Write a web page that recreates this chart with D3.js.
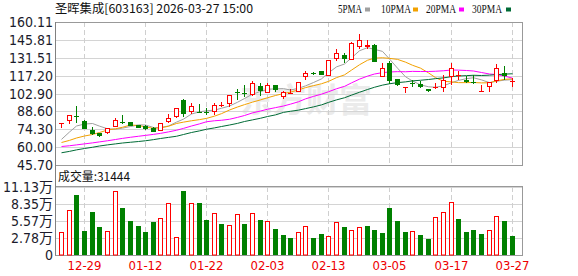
<!DOCTYPE html>
<html>
<head>
<meta charset="utf-8">
<script src="https://d3js.org/d3.v7.min.js"></script>
<style>
  body { margin: 0; background: #fff; }
  svg { display: block; }
  .num { font-family: "Liberation Sans Narrow", "DejaVu Sans Condensed", "Noto Sans CJK SC", sans-serif; font-size: 14px; fill: #1b1b2b; }
  .title { font-family: "Noto Sans CJK SC", sans-serif; font-size: 12px; fill: #111; }
  .legend { font-family: "Liberation Serif", serif; font-size: 11.5px; fill: #111; }
  .xlab { font-family: "Liberation Sans Narrow", "DejaVu Sans Condensed", sans-serif; font-size: 13px; fill: #ee0000; }
  .grid { stroke: #d4d4d4; }
  .vgrid { stroke: #cfcfcf; stroke-dasharray: 5,3; }
  .frame { fill: none; stroke: #999; }
</style>
</head>
<body>
<div id="chart"></div>
<script>
const stockName = "圣晖集成[603163] 2026-03-27 15:00";

const dates = [
  "12-24","12-25","12-26","12-29","12-30","12-31",
  "01-05","01-06","01-07","01-08","01-09","01-12","01-13","01-14","01-15","01-16",
  "01-19","01-20","01-21","01-22","01-23","01-26","01-27","01-28","01-29","01-30",
  "02-02","02-03","02-04","02-05","02-06","02-09","02-10","02-11","02-12","02-13",
  "02-24","02-25","02-26","02-27",
  "03-02","03-03","03-04","03-05","03-06","03-09","03-10","03-11","03-12","03-13",
  "03-16","03-17","03-18","03-19","03-20","03-23","03-24","03-25","03-26","03-27"
];

const open = [78.4,80.9,85.1,80.9,73.7,71.0,71.5,76.3,79.8,79.8,77.7,76.9,75.0,73.3,80.3,84.3,97.6,88.3,88.3,88.3,
  87.8,93.0,94.4,103.8,103.2,101.6,109.0,103.5,109.6,100.0,103.3,104.3,116.2,119.4,120.8,117.2,130.9,133.6,130.1,140.2,
  140.2,142.1,116.2,127.7,114.2,107.5,111.4,110.6,106.4,107.0,107.0,116.0,116.9,113.6,112.0,103.8,108.0,113.0,119.0,112.6];
const high = [79.3,85.9,93.1,81.5,75.8,71.5,75.7,83.7,85.6,80.2,78.0,78.0,76.5,79.3,86.2,91.5,98.4,95.5,94.4,91.0,
  95.0,96.3,101.6,106.4,109.6,112.8,111.0,111.0,110.0,104.8,106.4,112.0,121.0,120.4,121.0,129.8,138.9,135.4,144.0,150.9,
  145.6,142.3,127.0,129.0,114.5,107.8,113.4,112.8,106.6,111.6,117.6,127.6,120.8,116.8,117.6,109.6,112.4,126.8,124.8,115.2];
const low = [75.5,78.9,79.7,74.3,69.5,68.1,70.5,76.0,78.6,76.8,75.0,74.0,71.8,72.8,79.3,83.5,84.4,86.4,87.5,85.6,
  85.6,92.0,92.3,97.6,100.3,101.0,101.1,103.0,103.8,98.2,102.4,104.0,113.6,117.6,117.4,117.0,128.8,127.0,129.8,138.4,
  138.9,128.0,116.0,110.4,109.3,103.6,108.2,107.2,104.0,106.4,104.3,109.6,113.6,111.2,110.4,103.8,104.3,111.0,113.6,108.2];
const close = [79.2,85.6,84.0,74.9,70.5,69.1,75.0,82.0,79.2,77.1,75.5,74.5,72.3,79.0,83.2,91.0,86.4,92.8,87.8,87.5,
  93.6,93.4,101.4,103.0,102.4,111.0,104.8,109.6,105.6,103.8,103.7,111.8,119.4,118.8,117.6,129.6,135.4,130.9,143.7,146.1,
  142.1,128.2,123.0,113.0,109.6,107.8,111.0,107.8,105.2,107.8,113.6,123.0,117.4,112.4,111.2,104.8,112.0,123.0,116.8,113.2];

// volume in 万 (10k shares)
const volume = [3.81,7.37,9.87,3.93,7.04,4.58,3.93,10.43,7.69,5.57,4.75,3.81,5.40,6.01,8.51,2.90,10.48,8.48,8.51,5.73,
  6.88,5.07,4.86,6.66,5.07,6.88,5.73,5.52,4.26,3.27,2.78,3.77,4.70,2.78,3.44,3.06,5.40,4.58,4.04,4.53,
  4.75,4.09,3.62,7.72,5.57,3.81,3.93,3.27,2.62,6.17,6.99,8.63,5.89,3.81,4.09,3.44,4.09,6.34,5.57,3.1444];

const ma5 = [66.2,72.1,76.9,78.5,78.9,76.8,74.7,74.3,75.2,76.5,77.8,77.7,75.7,75.7,76.9,80.0,82.4,86.5,88.2,89.1,
  89.6,91.1,92.9,95.9,98.9,102.4,104.5,106.2,106.7,106.8,105.7,107.1,109.0,111.7,114.6,119.4,124.2,126.5,131.4,137.1,
  139.6,138.2,136.6,130.5,123.2,116.3,112.9,109.8,108.3,107.9,109.1,111.5,113.4,114.8,115.5,113.8,111.6,112.7,113.6,114.0];
const ma10 = [63.7,65.4,67.3,68.9,70.1,71.7,73.7,74.7,75.9,77.7,77.3,76.2,75.0,75.4,76.7,78.9,80.0,81.1,82.0,83.0,
  84.8,86.8,89.7,92.1,94.0,96.0,97.8,99.5,101.3,102.9,104.0,105.8,107.6,109.2,110.7,112.6,115.6,117.8,121.6,125.9,
  129.5,131.2,131.5,131.0,130.2,128.0,125.5,123.2,119.4,115.6,112.7,112.2,111.6,111.6,111.7,111.4,111.5,113.0,114.2,114.7];
const ma20 = [60.5,61.1,61.8,62.6,63.4,64.2,65.1,66.1,67.0,67.9,68.7,69.4,70.2,71.0,72.2,73.5,75.0,76.9,78.6,80.3,
  81.1,81.5,82.3,83.8,85.3,87.4,88.9,90.3,91.6,92.9,94.4,96.3,98.6,100.6,102.4,104.3,106.7,108.6,111.4,114.4,
  116.8,118.5,119.6,120.1,120.4,120.3,120.6,120.5,120.5,120.7,121.1,121.7,121.6,121.3,120.9,119.7,118.5,118.1,116.8,115.2];
const ma30 = [55.5,56.6,57.8,58.9,59.9,60.9,61.8,62.6,63.3,63.9,64.5,65.1,66.0,66.9,67.8,68.7,70.1,71.7,73.0,74.3,
  75.4,76.5,77.7,79.0,80.5,81.8,83.1,84.5,85.8,87.8,88.7,89.6,90.8,92.2,93.8,95.8,97.8,99.5,101.6,103.9,
  106.1,107.9,109.6,110.7,111.6,112.2,113.0,113.5,114.1,114.8,115.4,116.4,116.9,117.2,117.5,117.3,117.6,118.0,118.4,118.7];

const priceTicks = [160.11,145.81,131.51,117.20,102.90,88.60,74.30,60.00,45.70];
const volTicks = [0,2.78,5.57,8.35,11.13];
const dateTicks = ["12-29","01-12","01-22","02-03","02-13","03-05","03-17","03-27"];
const maNames = ["5PMA","10PMA","20PMA","30PMA"];
const maColors = ["#a0a0a0","#f2a100","#ff00ff","#006b36"];

const UP = "#ff0000", DOWN = "#008000";

const width = 578, height = 276;
const L = 55.5, R = 522.5;
const pTop = 22, pBot = 165;
const vTop = 187, vBot = 255;

const svg = d3.select("#chart").append("svg")
  .attr("width", width).attr("height", height);

const x = d3.scaleBand().domain(dates).range([56.5, 517.3]).padding(0.35);
const cx = d => Math.floor(x(d) + x.bandwidth() / 2);

const y = d3.scaleLinear().domain([45.70, 160.11]).range([pBot, pTop]);
const yv = d3.scaleLinear().domain([0, 11.13]).range([vBot, vTop]);

// title
svg.append("text").attr("class", "title")
  .attr("x", 55).attr("y", 13)
  .attr("textLength", 198).attr("lengthAdjust", "spacingAndGlyphs")
  .text(stockName);

// legend
const legendX = [338, 381, 426, 472];
const legendW = [24, 30, 30, 30];
const legendSwatch = [365, 413, 459, 506];
maNames.forEach((n, i) => {
  svg.append("text").attr("class", "legend")
    .attr("x", legendX[i]).attr("y", 12.5)
    .attr("textLength", legendW[i]).attr("lengthAdjust", "spacingAndGlyphs")
    .text(n);
  svg.append("rect")
    .attr("x", legendSwatch[i]).attr("y", 7.5)
    .attr("width", 5).attr("height", 4)
    .attr("fill", maColors[i]);
});

// watermark
svg.append("text")
  .attr("x", 240).attr("y", 112)
  .attr("font-family", "Noto Sans CJK SC, sans-serif")
  .attr("font-size", 33).attr("font-weight", "bold")
  .attr("fill", "#ebebeb")
  .text("东方财富");

// price grid
svg.append("g").selectAll("line").data(priceTicks).join("line")
  .attr("class", "grid")
  .attr("x1", L).attr("x2", R)
  .attr("y1", d => Math.round(y(d)) + 0.5).attr("y2", d => Math.round(y(d)) + 0.5);

svg.append("g").selectAll("text").data(priceTicks).join("text")
  .attr("class", "num").attr("text-anchor", "end")
  .attr("x", 53).attr("y", d => Math.round(y(d)) + 5)
  .text(d => d.toFixed(2));

// volume grid
svg.append("g").selectAll("line").data(volTicks).join("line")
  .attr("class", "grid")
  .attr("x1", L).attr("x2", R)
  .attr("y1", d => Math.round(yv(d)) + 0.5).attr("y2", d => Math.round(yv(d)) + 0.5);

svg.append("g").selectAll("text").data(volTicks).join("text")
  .attr("class", "num").attr("text-anchor", "end")
  .attr("x", 53).attr("y", d => Math.round(yv(d)) + 5)
  .text(d => d === 0 ? "0" : d.toFixed(2) + "万");

// vertical dashed lines + date labels
const vg = svg.append("g");
dateTicks.forEach(d => {
  const xx = cx(d) + 0.5;
  vg.append("line").attr("class", "vgrid")
    .attr("x1", xx).attr("x2", xx).attr("y1", pTop).attr("y2", pBot);
  vg.append("line").attr("class", "vgrid")
    .attr("x1", xx).attr("x2", xx).attr("y1", vTop).attr("y2", vBot);
  vg.append("text").attr("class", "xlab").attr("text-anchor", "middle")
    .attr("x", xx).attr("y", 270).text(d);
});

// frames
svg.append("rect").attr("class", "frame")
  .attr("x", L).attr("y", pTop + 0.5).attr("width", R - L).attr("height", pBot - pTop);
svg.append("rect").attr("class", "frame")
  .attr("x", L).attr("y", vTop - 0.5).attr("width", R - L).attr("height", vBot - vTop + 1);
svg.append("line")
  .attr("x1", L).attr("x2", L).attr("y1", pTop).attr("y2", vBot + 0.5)
  .attr("stroke", "#808080");

// volume label
svg.append("text").attr("class", "title")
  .attr("x", 58).attr("y", 181)
  .attr("textLength", 72).attr("lengthAdjust", "spacingAndGlyphs")
  .text("成交量:" + Math.round(volume[volume.length - 1] * 10000));

// moving averages
const maSeries = [ma5, ma10, ma20, ma30];
maSeries.forEach((s, k) => {
  const line = d3.line()
    .x((v, i) => cx(dates[i]) + 0.5)
    .y(v => y(v));
  svg.append("path")
    .attr("d", line(s))
    .attr("fill", "none")
    .attr("stroke", maColors[k])
    .attr("stroke-width", 1);
});

// candles
const candles = dates.map((d, i) => ({
  d, o: open[i], h: high[i], l: low[i], c: close[i], v: volume[i],
  prev: i > 0 ? close[i - 1] : open[i]
}));

const cg = svg.append("g");
candles.forEach(k => {
  const c = cx(k.d);
  const up = k.c > k.o || (k.c === k.o && k.c >= k.prev);
  const col = up ? UP : DOWN;
  const yH = Math.round(y(k.h)), yL = Math.round(y(k.l));
  const yT = Math.round(y(Math.max(k.o, k.c))), yB = Math.round(y(Math.min(k.o, k.c)));
  cg.append("line")
    .attr("x1", c + 0.5).attr("x2", c + 0.5)
    .attr("y1", yH).attr("y2", yL)
    .attr("stroke", col);
  if (up && yB - yT >= 3) {
    cg.append("rect")
      .attr("x", c - 1.5).attr("y", yT + 0.5)
      .attr("width", 4).attr("height", yB - yT - 1)
      .attr("fill", "#fff").attr("stroke", col);
  } else {
    cg.append("rect")
      .attr("x", c - 2).attr("y", yT)
      .attr("width", 5).attr("height", Math.max(yB - yT, 1))
      .attr("fill", col);
  }
});

// volume bars: colour by close vs previous close
candles.forEach(k => {
  const c = cx(k.d);
  const up = k.c >= k.prev;
  const col = up ? UP : DOWN;
  const top = Math.round(yv(k.v));
  if (up) {
    svg.append("rect")
      .attr("x", c - 1.5).attr("y", top + 0.5)
      .attr("width", 4).attr("height", vBot - top - 0.5)
      .attr("fill", "#fff").attr("stroke", col);
  } else {
    svg.append("rect")
      .attr("x", c - 2).attr("y", top)
      .attr("width", 5).attr("height", vBot - top)
      .attr("fill", col);
  }
});
</script>
</body>
</html>
